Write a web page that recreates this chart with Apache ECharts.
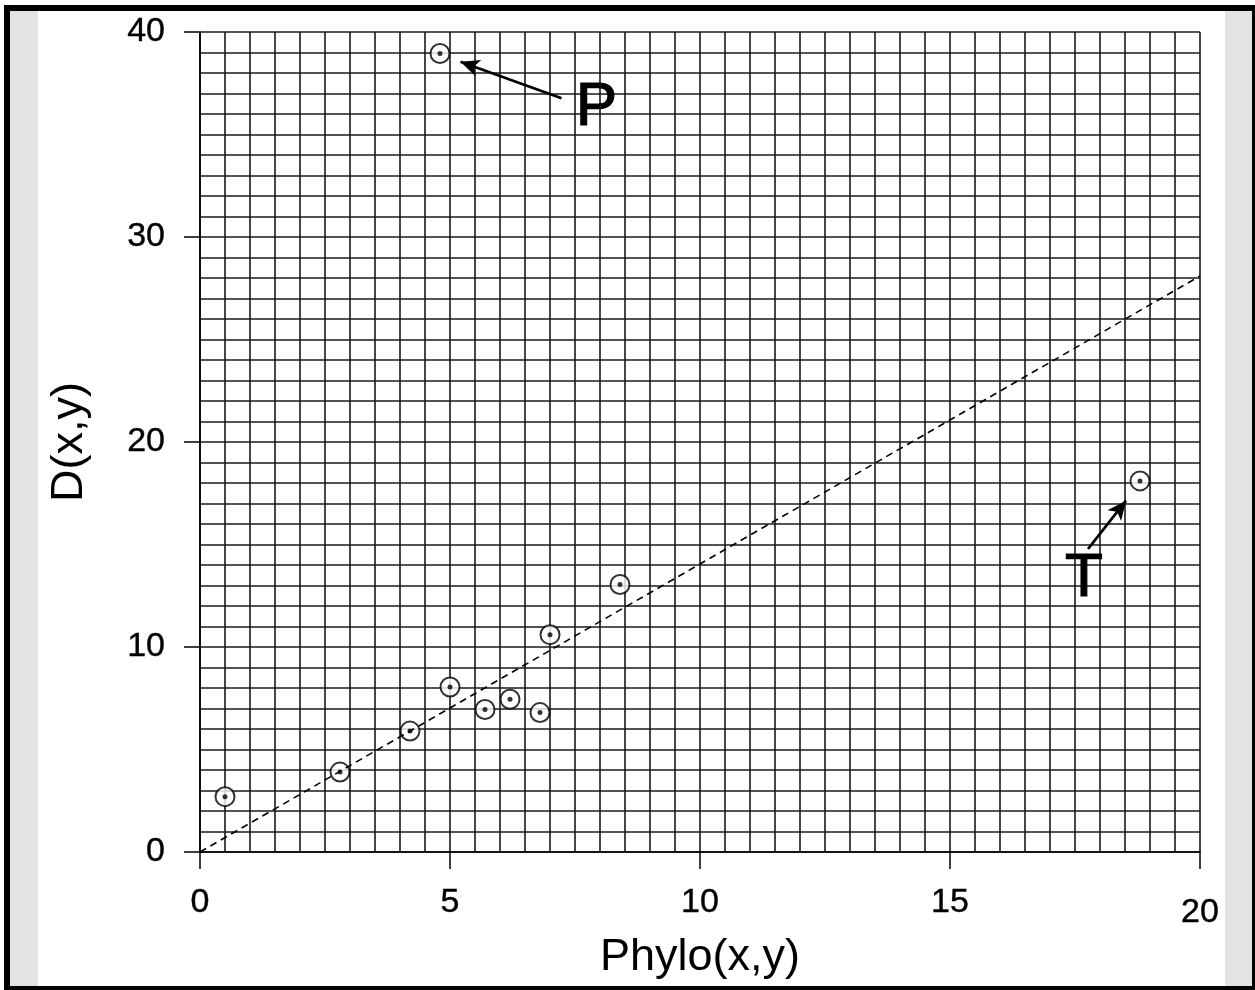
<!DOCTYPE html>
<html>
<head>
<meta charset="utf-8">
<script src="https://cdn.jsdelivr.net/npm/echarts@6/dist/echarts.min.js"></script>
<style>
  html, body { margin: 0; padding: 0; background: #fff; }
  #frame {
    position: absolute; left: 4px; top: 5px; width: 1242px; height: 975px;
    border-left: 6px solid #000; border-top: 6px solid #000;
    border-right: 6px solid #000; border-bottom: 4px solid #000;
    background: #e3e3e3;
  }
  #paper { position: absolute; left: 38px; top: 11px; width: 1187px; height: 975px; background: #fff; }
  #chart { position: absolute; left: 0; top: 0; width: 1255px; height: 990px; }
</style>
</head>
<body>
<div id="frame"></div>
<div id="paper"></div>
<div id="chart"></div>
<script>
// measured points, Phylo(x,y) vs D(x,y)
var phylo = [0.5, 2.8, 4.2, 5.0, 5.7, 6.2, 6.8, 7.0, 8.4, 4.8, 18.8];
var dist  = [2.7, 3.9, 5.9, 8.05, 6.95, 7.45, 6.8, 10.6, 13.05, 38.95, 18.1];

// dashed reference line
var fitX = [0, 20];
var fitY = [0, 28.1];

var xTicks = [0, 5, 10, 15, 20];
var yTicks = [0, 10, 20, 30, 40];

// annotations: label, label anchor, arrow tail, arrow head
var noteNames = ['P', 'T'];
var noteAt   = [[7.93, 36.3], [17.68, 13.3]];
var noteFrom = [[7.23, 36.77], [17.76, 14.78]];
var noteTo   = [[5.21, 38.55], [18.52, 17.14]];

var font = '"Liberation Sans", Arial, sans-serif';

var pts = phylo.map(function (x, i) { return [x, dist[i]]; });
var fit = fitX.map(function (x, i) { return [x, fitY[i]]; });

var gridLine = { show: true, lineStyle: { color: '#1a1a1a', width: 1.6 } };
var tickText = { fontFamily: font, fontSize: 34, color: '#000', textBorderColor: '#000', textBorderWidth: 0.4 };

var myChart = echarts.init(document.getElementById('chart'));

myChart.setOption({
  backgroundColor: 'transparent',
  animation: false,
  grid: { left: 200, top: 32, width: 1000, height: 820, containLabel: false },
  xAxis: {
    type: 'value', min: xTicks[0], max: xTicks[xTicks.length - 1], interval: 5,
    name: 'Phylo(x,y)', nameLocation: 'middle', nameGap: 80,
    nameTextStyle: { fontFamily: font, fontSize: 45, color: '#000' },
    axisLine: { show: true, onZero: false, lineStyle: { color: '#000', width: 1.6 } },
    axisTick: { show: true, inside: false, length: 17, lineStyle: { color: '#000', width: 1.5 } },
    axisLabel: Object.assign({
      margin: 34,
      formatter: function (v) { return v === 20 ? '{last|20}' : String(v); },
      rich: { last: Object.assign({ padding: [10, 0, 0, 0] }, tickText) }
    }, tickText),
    splitLine: gridLine,
    minorTick: { show: false, splitNumber: 10 },
    minorSplitLine: gridLine
  },
  yAxis: {
    type: 'value', min: yTicks[0], max: yTicks[yTicks.length - 1], interval: 10,
    name: 'D(x,y)', nameLocation: 'middle', nameGap: 108, nameRotate: 90,
    nameTextStyle: { fontFamily: font, fontSize: 45, color: '#000' },
    axisLine: { show: true, onZero: false, lineStyle: { color: '#000', width: 1.6 } },
    axisTick: { show: true, inside: false, length: 16, lineStyle: { color: '#000', width: 1.5 } },
    axisLabel: Object.assign({ margin: 35 }, tickText),
    splitLine: gridLine,
    minorTick: { show: false, splitNumber: 10 },
    minorSplitLine: gridLine
  },
  series: [
    {
      type: 'line', data: fit, symbol: 'none', silent: true,
      lineStyle: { color: '#000', width: 1.6, type: [7, 5] }
    },
    {
      type: 'scatter', data: pts, symbol: 'circle', symbolSize: 19,
      itemStyle: { color: '#fff', borderColor: '#000', borderWidth: 2 },
      markLine: {
        silent: true, symbol: ['none', 'arrow'], symbolSize: [13, 19],
        label: { show: false },
        lineStyle: { color: '#000', width: 2.8, type: 'solid' },
        data: noteNames.map(function (n, i) {
          return [{ coord: noteFrom[i] }, { coord: noteTo[i] }];
        })
      },
      markPoint: {
        silent: true, symbol: 'circle', symbolSize: 1,
        itemStyle: { color: 'transparent' },
        label: {
          show: true, position: 'inside', fontFamily: font, fontSize: 62, color: '#000',
          textBorderColor: '#000', textBorderWidth: 1.2,
          formatter: function (p) { return p.name; }
        },
        data: noteNames.map(function (n, i) { return { name: n, coord: noteAt[i] }; })
      }
    },
    {
      type: 'scatter', data: pts, symbol: 'circle', symbolSize: 5, silent: true,
      itemStyle: { color: '#000' }
    }
  ]
});
</script>
</body>
</html>
